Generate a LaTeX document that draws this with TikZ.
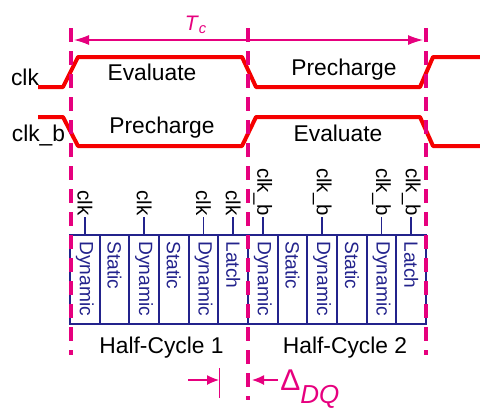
\documentclass[tikz,border=0pt]{standalone}
\usepackage{fontspec}
\setmainfont{Liberation Sans}
\usetikzlibrary{arrows.meta}
\definecolor{fasepink}{RGB}{230,0,126}
\definecolor{celdaazul}{RGB}{35,35,140}
\definecolor{relojrojo}{RGB}{245,0,0}
\begin{document}
\begin{tikzpicture}[x=0.5pt, y=-0.5pt,
		onda/.style={relojrojo, line width=2pt, line join=round},
		fase/.style={fasepink, line width=2pt, dash pattern=on 7pt off 4.5pt},
		celda/.style={draw=celdaazul, line width=0.9pt, minimum width=14.83pt, minimum height=44.5pt, inner sep=0pt},
		celdatexto/.style={celdaazul, rotate=-90, anchor=west, inner xsep=3.5pt, inner ysep=0pt, font=\fontsize{9.6}{10}\selectfont},
		reloj/.style={black, rotate=-90, anchor=east, inner sep=0.5pt, font=\fontsize{10.2}{11}\selectfont},
		etiqueta/.style={black, anchor=base, inner sep=0pt, font=\fontsize{11.4}{13}\selectfont},
		flecha/.style={fasepink, line width=0.6pt, -{Latex[length=6pt,width=5pt]}}]
	\useasboundingbox (0,0) rectangle (480,408);
	
	% Formas de onda
	\draw[onda] (38,87) -- (63,87) -- (78,57) -- (242,57) -- (256,87) -- (420,87) -- (433,57) -- (480,57);
	\draw[onda] (38,117) -- (63,117) -- (78,146) -- (242,146) -- (256,117) -- (420,117) -- (433,146) -- (480,146);
	\node[etiqueta] (clk) at (25,85) {clk};
	\node[etiqueta] (clkb) at (38.5,141) {clk\_b};
	\node[etiqueta] (eval1) at (152,80) {Evaluate};
	\node[etiqueta] (pre1) at (344,75) {Precharge};
	\node[etiqueta] (pre2) at (162,133) {Precharge};
	\node[etiqueta] (eval2) at (338,141) {Evaluate};
	
	% Bloques de logica
	\foreach \i/\t in {1/Dynamic,2/Static,3/Dynamic,4/Static,5/Dynamic,6/Latch,7/Dynamic,8/Static,9/Dynamic,10/Static,11/Dynamic,12/Latch} {
		\node[celda] (celda\i) at ({70+29.67*(\i-0.5)},279.5) {};
		\node[celdatexto] (texto\i) at (celda\i.north) {\t};
	}
	\foreach \i/\t in {1/clk,3/clk,5/clk,6/clk,7/clk\_b,9/clk\_b,11/clk\_b,12/clk\_b} {
		\node[reloj] (reloj\i) at ([yshift=8.5pt]celda\i.north) {\t};
		\draw[celdaazul, line width=0.9pt] (reloj\i.east) -- (celda\i.north);
	}
	\node[etiqueta] (medio1) at (161.5,353) {Half-Cycle 1};
	\node[etiqueta] (medio2) at (345,353) {Half-Cycle 2};
	
	% Limites de fase
	\draw[fase] (70.5,28) -- (70.5,355);
	\draw[fase] (248,28) -- (248,400);
	\draw[fase] (426,28) -- (426,355);
	
	% Periodo
	\coordinate (tcizq) at (74,40);
	\coordinate (tcder) at (423,40);
	\draw[fasepink, line width=0.6pt, {Latex[length=7.5pt,width=5pt]}-{Latex[length=7.5pt,width=5pt]}] (tcizq) -- (tcder);
	\node[fasepink, inner sep=0pt, font=\fontsize{10.5}{12}\selectfont] (tc) at (196,25) {\textit{T}\textsubscript{\textit{c}}};
	
	% Retardo D-Q
	\coordinate (dqa) at (188,380);
	\coordinate (dqb) at (219,380);
	\coordinate (dqc) at (278,380);
	\coordinate (dqd) at (252,380);
	\coordinate (topea) at (219,368);
	\coordinate (topeb) at (219,398);
	\draw[flecha] (dqa) -- (dqb);
	\draw[flecha] (dqc) -- (dqd);
	\draw[fasepink, line width=0.5pt] (topea) -- (topeb);
	\node[fasepink, anchor=base west, inner sep=0pt] (dq) at (280,390) {{\fontsize{15}{16}\selectfont Δ}\raisebox{-6.5pt}{\fontsize{13}{14}\selectfont\itshape DQ}};
\end{tikzpicture}
\end{document}
